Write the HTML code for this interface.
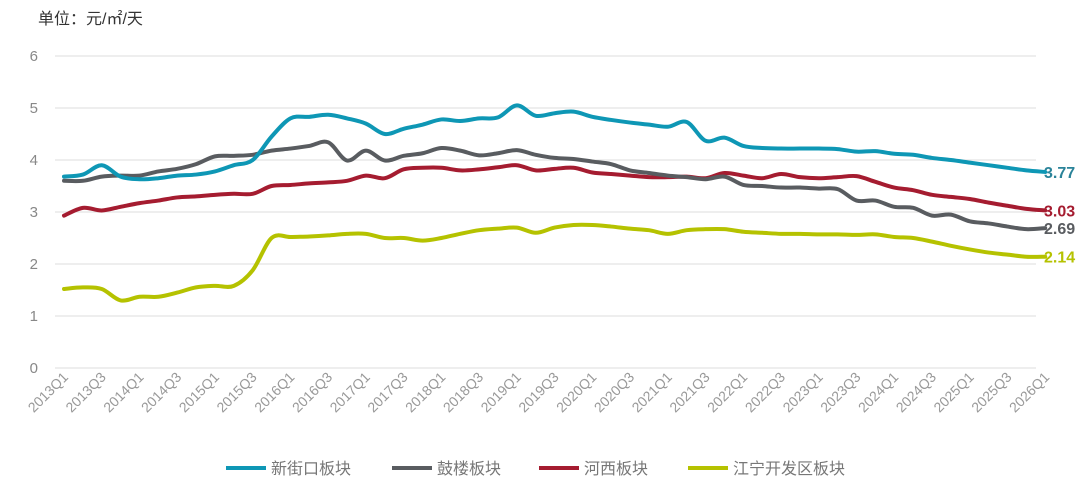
<!DOCTYPE html>
<html><head><meta charset="utf-8"><style>
html,body{margin:0;padding:0;background:#fff;width:1085px;height:500px;overflow:hidden}
svg{display:block;font-family:"Liberation Sans","Noto Sans CJK SC",sans-serif}
</style></head><body>
<svg id="c" width="1085" height="500" viewBox="0 0 1085 500" xmlns="http://www.w3.org/2000/svg">
<text x="38" y="24" font-size="16" fill="#333">单位：元/㎡/天</text>
</svg>
<script>
const S=document.getElementById('c'),NS='http://www.w3.org/2000/svg';
function el(t,a,txt){const e=document.createElementNS(NS,t);for(const k in a)e.setAttribute(k,a[k]);if(txt!==undefined)e.textContent=txt;S.appendChild(e);return e;}
const X=i=>64+18.87*i, Y=v=>368-52*v;
for(let v=0;v<=6;v++){el('line',{x1:55,x2:1036,y1:Y(v),y2:Y(v),stroke:'#e3e3e3','stroke-width':1.3});
el('text',{x:38,y:Y(v)+5,'font-size':15,fill:'#888','text-anchor':'end'},v);}
for(let i=0;i<=52;i+=2){const yr=2013+Math.floor(i/4),q=i%4+1;const x=X(i)+5,y=378;
el('text',{x:x,y:y,'font-size':14,fill:'#999','text-anchor':'end',transform:`rotate(-45 ${x} ${y})`},yr+'Q'+q);}
const D={
b:[3.68,3.72,3.9,3.68,3.63,3.65,3.70,3.72,3.78,3.9,4.0,4.45,4.8,4.83,4.87,4.80,4.70,4.5,4.6,4.68,4.78,4.75,4.8,4.82,5.05,4.85,4.9,4.93,4.83,4.77,4.72,4.68,4.64,4.73,4.37,4.43,4.27,4.23,4.22,4.22,4.22,4.21,4.16,4.17,4.12,4.1,4.04,4.0,3.95,3.9,3.85,3.8,3.77],
g:[3.6,3.6,3.68,3.7,3.7,3.78,3.83,3.92,4.07,4.08,4.1,4.18,4.22,4.27,4.34,3.99,4.18,3.99,4.08,4.13,4.23,4.18,4.09,4.13,4.19,4.1,4.04,4.02,3.97,3.92,3.8,3.75,3.7,3.67,3.63,3.68,3.52,3.5,3.47,3.47,3.45,3.44,3.22,3.22,3.1,3.08,2.93,2.95,2.82,2.78,2.72,2.67,2.69],
r:[2.93,3.08,3.03,3.1,3.17,3.22,3.28,3.3,3.33,3.35,3.35,3.5,3.52,3.55,3.57,3.6,3.7,3.65,3.82,3.85,3.85,3.8,3.82,3.86,3.9,3.8,3.83,3.85,3.76,3.73,3.7,3.67,3.67,3.68,3.65,3.75,3.7,3.65,3.73,3.67,3.65,3.67,3.69,3.58,3.47,3.42,3.33,3.29,3.25,3.18,3.12,3.06,3.03],
y:[1.52,1.55,1.52,1.3,1.37,1.37,1.45,1.55,1.58,1.58,1.88,2.5,2.52,2.53,2.55,2.58,2.58,2.5,2.5,2.45,2.5,2.58,2.65,2.68,2.7,2.6,2.7,2.75,2.75,2.72,2.68,2.65,2.58,2.65,2.67,2.67,2.62,2.6,2.58,2.58,2.57,2.57,2.56,2.57,2.52,2.5,2.43,2.35,2.28,2.22,2.18,2.14,2.14]};
const C={b:'#0e97b5',g:'#595c60',r:'#a51c30',y:'#b5c200'};
function path(v){const p=v.map((d,i)=>[X(i),Y(d)]);let s=`M${p[0][0]},${p[0][1]}`;
for(let i=0;i<p.length-1;i++){const p0=p[i-1]||p[i],p1=p[i],p2=p[i+1],p3=p[i+2]||p2,t=6;
s+=`C${p1[0]+(p2[0]-p0[0])/t},${p1[1]+(p2[1]-p0[1])/t} ${p2[0]-(p3[0]-p1[0])/t},${p2[1]-(p3[1]-p1[1])/t} ${p2[0]},${p2[1]}`;}return s;}
for(const k of ['y','r','g','b'])el('path',{d:path(D[k]),fill:'none',stroke:C[k],'stroke-width':4,'stroke-linejoin':'round','stroke-linecap':'round'});
const L=[['b','3.77',3.77,'#2a8399'],['r','3.03',3.03,'#a51c30'],['g','2.69',2.69,'#595c60'],['y','2.14',2.14,'#b5c200']];
for(const [k,t,v,c] of L)el('text',{x:1044,y:Y(v)+6,'font-size':16,'font-weight':'bold',fill:c},t);
const lg=[['b','新街口板块',226],['g','鼓楼板块',392],['r','河西板块',539],['y','江宁开发区板块',688]];
for(const [k,t,x] of lg){el('line',{x1:x,x2:x+40,y1:468,y2:468,stroke:C[k],'stroke-width':4});
el('text',{x:x+45,y:474,'font-size':16,fill:'#777'},t);}
</script>
</body></html>
